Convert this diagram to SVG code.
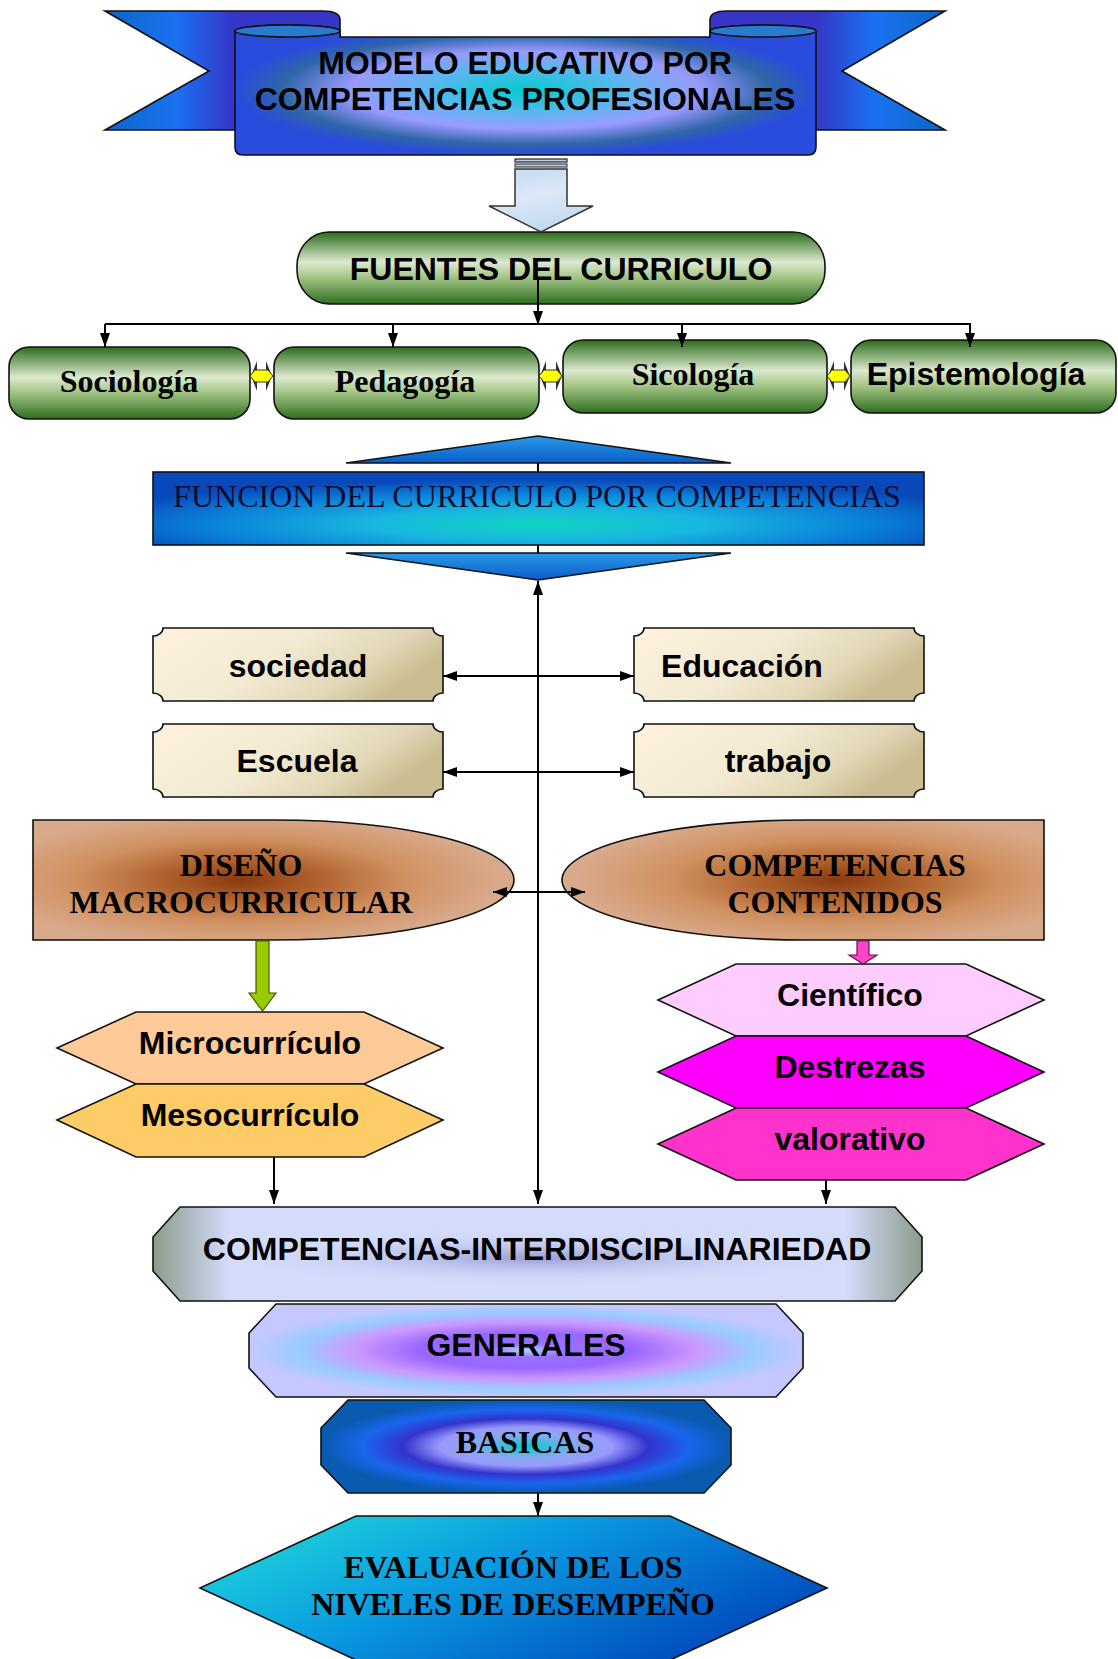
<svg xmlns="http://www.w3.org/2000/svg" width="1118" height="1659" viewBox="0 0 1118 1659">
<style>
.a{font-family:"Liberation Sans",Arial,sans-serif;font-weight:bold;font-size:32px;text-anchor:middle;fill:#000}
.t{font-family:"Liberation Serif","Times New Roman",serif;font-weight:bold;font-size:32px;text-anchor:middle;fill:#000}
.ln{fill:none;stroke:#000;stroke-width:2}
.sk{stroke:#111;stroke-width:1.6}
</style>
<defs>
<marker id="ah" viewBox="0 0 14 10" refX="14" refY="5" markerWidth="14" markerHeight="10" markerUnits="userSpaceOnUse" orient="auto-start-reverse">
<path d="M0,0 L14,5 L0,10 Z" fill="#000"/>
</marker>
<linearGradient id="tailL" x1="0" y1="0" x2="1" y2="0">
<stop offset="0" stop-color="#0b66c8"/><stop offset="0.3" stop-color="#1a72f0"/><stop offset="0.55" stop-color="#3535c8"/><stop offset="1" stop-color="#3535c8"/>
</linearGradient>
<linearGradient id="tailR" x1="1" y1="0" x2="0" y2="0">
<stop offset="0" stop-color="#0b66c8"/><stop offset="0.3" stop-color="#1a72f0"/><stop offset="0.55" stop-color="#3535c8"/><stop offset="1" stop-color="#3535c8"/>
</linearGradient>
<radialGradient id="panel" cx="0.5" cy="0.5" r="0.5">
<stop offset="0" stop-color="#00cccc"/><stop offset="0.35" stop-color="#5cb6f0"/><stop offset="0.6" stop-color="#9a9aff"/><stop offset="0.84" stop-color="#2f66a8"/><stop offset="1" stop-color="#2a4cdc"/>
</radialGradient>
<linearGradient id="bluearrow" x1="0" y1="0" x2="0.3" y2="1">
<stop offset="0" stop-color="#c2d8f2"/><stop offset="0.5" stop-color="#dce8f7"/><stop offset="1" stop-color="#c4daf2"/>
</linearGradient>
<linearGradient id="green" x1="0" y1="0" x2="0" y2="1">
<stop offset="0" stop-color="#2c6c1c"/><stop offset="0.42" stop-color="#dde9cf"/><stop offset="0.62" stop-color="#a6c788"/><stop offset="1" stop-color="#2e6e1e"/>
</linearGradient>
<linearGradient id="tri" x1="0" y1="0" x2="0" y2="1">
<stop offset="0" stop-color="#2a9ae8"/><stop offset="1" stop-color="#0a5cc8"/>
</linearGradient>
<radialGradient id="func" cx="0.5" cy="0.72" r="0.62">
<stop offset="0" stop-color="#10d4c0"/><stop offset="0.35" stop-color="#18b6e0"/><stop offset="0.7" stop-color="#0a80d8"/><stop offset="1" stop-color="#0848b8"/>
</radialGradient>
<linearGradient id="plaque" x1="0" y1="0" x2="1" y2="0.35">
<stop offset="0" stop-color="#fff2dc"/><stop offset="0.5" stop-color="#f2ead2"/><stop offset="0.8" stop-color="#e2d8b8"/><stop offset="1" stop-color="#cbbd92"/>
</linearGradient>
<radialGradient id="brownL" cx="0.43" cy="0.5" r="0.55">
<stop offset="0" stop-color="#8a3a0e"/><stop offset="0.3" stop-color="#b0622e"/><stop offset="0.62" stop-color="#d09060"/><stop offset="1" stop-color="#d8aa8c"/>
</radialGradient>
<radialGradient id="brownR" cx="0.57" cy="0.5" r="0.55">
<stop offset="0" stop-color="#8a3a0e"/><stop offset="0.3" stop-color="#b0622e"/><stop offset="0.62" stop-color="#d09060"/><stop offset="1" stop-color="#d8aa8c"/>
</radialGradient>
<linearGradient id="inter" x1="0" y1="0" x2="1" y2="0">
<stop offset="0" stop-color="#8c9c8a"/><stop offset="0.1" stop-color="#d4dcfc"/><stop offset="0.9" stop-color="#d4dcfc"/><stop offset="1" stop-color="#8c9c8a"/>
</linearGradient>
<radialGradient id="interShade" cx="0.5" cy="0.5" r="0.5">
<stop offset="0" stop-color="#9a9ed2" stop-opacity="1"/><stop offset="1" stop-color="#d4dcfc" stop-opacity="0"/>
</radialGradient>
<radialGradient id="gen" cx="0.5" cy="0.5" r="0.5">
<stop offset="0" stop-color="#a8d8ff"/><stop offset="0.14" stop-color="#9a72ff"/><stop offset="0.38" stop-color="#9966ff"/><stop offset="0.62" stop-color="#cc99ff"/><stop offset="0.82" stop-color="#99ccff"/><stop offset="1" stop-color="#c4c8ff"/>
</radialGradient>
<radialGradient id="bas" cx="0.5" cy="0.5" r="0.5">
<stop offset="0" stop-color="#00cccc"/><stop offset="0.25" stop-color="#8aa8f0"/><stop offset="0.42" stop-color="#9999ff"/><stop offset="0.6" stop-color="#3333cc"/><stop offset="0.8" stop-color="#1a66ee"/><stop offset="1" stop-color="#0a5ab0"/>
</radialGradient>
<linearGradient id="eva" x1="0" y1="0" x2="1" y2="0.5">
<stop offset="0" stop-color="#22e0d8"/><stop offset="0.5" stop-color="#0a9ae0"/><stop offset="1" stop-color="#0050c0"/>
</linearGradient>
</defs>
<rect width="1118" height="1659" fill="#fff"/>

<g id="banner">
<path d="M105,11 L323,11 Q340,11 340,20 L340,130 L105,130 L209,71 Z" fill="url(#tailL)" class="sk"/>
<path d="M945,11 L727,11 Q710,11 710,20 L710,130 L945,130 L842,71 Z" fill="url(#tailR)" class="sk"/>
<path d="M235,31 A52.5,6 0 0 1 340,31 L340,37 L710,37 L710,31 A53,6 0 0 1 816,31 L816,147 Q816,155 808,155 L243,155 Q235,155 235,147 Z" fill="url(#panel)" class="sk"/>
<ellipse cx="287.5" cy="31" rx="52.5" ry="6" fill="#2a7ad0" class="sk"/>
<ellipse cx="763" cy="31" rx="53" ry="6" fill="#2a7ad0" class="sk"/>
<text class="a" x="525" y="74" font-size="31">MODELO EDUCATIVO POR</text>
<text class="a" x="525" y="110" font-size="31">COMPETENCIAS PROFESIONALES</text>
</g>

<g id="fuentes">
<rect x="297" y="232" width="528" height="72" rx="32" ry="34" fill="url(#green)" class="sk"/>
<text class="a" x="561" y="280">FUENTES DEL CURRICULO</text>
</g>

<g id="sociologia">
<rect x="9" y="347" width="241" height="72" rx="20" fill="url(#green)" class="sk"/>
<text class="t" x="129" y="392">Sociología</text>
</g>
<g id="pedagogia">
<rect x="274" y="347" width="265" height="72" rx="20" fill="url(#green)" class="sk"/>
<text class="t" x="405" y="392">Pedagogía</text>
</g>
<g id="sicologia">
<rect x="563" y="340" width="264" height="73" rx="20" fill="url(#green)" class="sk"/>
<text class="t" x="693" y="385">Sicología</text>
</g>
<g id="epistemologia">
<rect x="851" y="340" width="265" height="73" rx="20" fill="url(#green)" class="sk"/>
<text class="a" x="976" y="385">Epistemología</text>
</g>

<g id="funcion">
<polygon points="538,436 731,463 346,463" fill="url(#tri)" class="sk"/>
<rect x="153" y="472" width="771" height="73" fill="url(#func)" class="sk"/>
<polygon points="346,553 731,553 538,580" fill="url(#tri)" class="sk"/>
<text x="537" y="507" font-family="Liberation Serif, Times New Roman, serif" font-size="32" text-anchor="middle" fill="#0b0b33">FUNCION DEL CURRICULO POR COMPETENCIAS</text>
</g>

<g id="sociedad">
<path d="M163,628 H433 A10,8 0 0 0 443,636 V693 A10,8 0 0 0 433,701 H163 A10,8 0 0 0 153,693 V636 A10,8 0 0 0 163,628 Z" fill="url(#plaque)" class="sk"/>
<text class="a" x="298" y="677">sociedad</text>
</g>
<g id="educacion">
<path d="M644,628 H914 A10,8 0 0 0 924,636 V693 A10,8 0 0 0 914,701 H644 A10,8 0 0 0 634,693 V636 A10,8 0 0 0 644,628 Z" fill="url(#plaque)" class="sk"/>
<text class="a" x="742" y="677">Educación</text>
</g>
<g id="escuela">
<path d="M163,724 H433 A10,8 0 0 0 443,732 V789 A10,8 0 0 0 433,797 H163 A10,8 0 0 0 153,789 V732 A10,8 0 0 0 163,724 Z" fill="url(#plaque)" class="sk"/>
<text class="a" x="297" y="772">Escuela</text>
</g>
<g id="trabajo">
<path d="M644,724 H914 A10,8 0 0 0 924,732 V789 A10,8 0 0 0 914,797 H644 A10,8 0 0 0 634,789 V732 A10,8 0 0 0 644,724 Z" fill="url(#plaque)" class="sk"/>
<text class="a" x="778" y="772">trabajo</text>
</g>

<g id="diseno">
<path d="M33,820 H274 A240,60 0 0 1 274,940 H33 Z" fill="url(#brownL)" class="sk"/>
<text class="t" x="241" y="876" font-size="31">DISEÑO</text>
<text class="t" x="241" y="913" font-size="31">MACROCURRICULAR</text>
</g>
<g id="competencias">
<path d="M1044,820 H807 A245,60 0 0 0 807,940 H1044 Z" fill="url(#brownR)" class="sk"/>
<text class="t" x="835" y="876" font-size="31">COMPETENCIAS</text>
<text class="t" x="835" y="913" font-size="31">CONTENIDOS</text>
</g>

<g id="microcurriculo">
<polygon points="57,1048 136,1012 364,1012 443,1048 364,1084 136,1084" fill="#fecb98" class="sk"/>
<text class="a" x="250" y="1054">Microcurrículo</text>
</g>
<g id="mesocurriculo">
<polygon points="57,1120 136,1084 364,1084 443,1120 364,1157 136,1157" fill="#fdcc66" class="sk"/>
<text class="a" x="250" y="1126">Mesocurrículo</text>
</g>
<g id="cientifico">
<polygon points="658,1000 736,964 966,964 1044,1000 966,1036 736,1036" fill="#ffccff" class="sk"/>
<text class="a" x="850" y="1006">Científico</text>
</g>
<g id="destrezas">
<polygon points="658,1072 736,1036 966,1036 1044,1072 966,1108 736,1108" fill="#ff00ff" class="sk"/>
<text class="a" x="850" y="1078">Destrezas</text>
</g>
<g id="valorativo">
<polygon points="658,1144 736,1108 966,1108 1044,1144 966,1180 736,1180" fill="#ff33cc" class="sk"/>
<text class="a" x="850" y="1150">valorativo</text>
</g>

<g id="interdisciplinariedad">
<polygon points="180,1207 895,1207 922,1237 922,1271 895,1301 180,1301 153,1271 153,1237" fill="url(#inter)" class="sk"/>
<ellipse cx="537" cy="1258" rx="330" ry="28" fill="url(#interShade)"/>
<text class="a" x="537" y="1260">COMPETENCIAS-INTERDISCIPLINARIEDAD</text>
</g>
<g id="generales">
<polygon points="276,1304 776,1304 803,1333 803,1368 776,1397 276,1397 249,1368 249,1333" fill="url(#gen)" class="sk"/>
<text class="a" x="526" y="1356">GENERALES</text>
</g>
<g id="basicas">
<polygon points="348,1400 704,1400 731,1428 731,1465 704,1493 348,1493 321,1465 321,1428" fill="url(#bas)" class="sk"/>
<text class="t" x="525" y="1453">BASICAS</text>
</g>
<g id="evaluacion">
<polygon points="356,1516 670,1516 827,1588 670,1660 356,1660 200,1588" fill="url(#eva)" class="sk"/>
<text class="t" x="513" y="1578">EVALUACIÓN DE LOS</text>
<text class="t" x="513" y="1615">NIVELES DE DESEMPEÑO</text>
</g>

<g id="connectors">
<rect x="515" y="159" width="52" height="3" fill="#b8cce8" stroke="#222" stroke-width="1.2"/>
<rect x="515" y="164" width="52" height="3" fill="#b8cce8" stroke="#444" stroke-width="1.2"/>
<polygon points="515,169 567,169 567,206 593,206 541,232 489,206 515,206" fill="url(#bluearrow)" stroke="#333" stroke-width="1.5"/>
<path class="ln" d="M538,280 V325" marker-end="url(#ah)"/>
<path class="ln" d="M105,324 H971"/>
<path class="ln" d="M105,324 V347" marker-end="url(#ah)"/>
<path class="ln" d="M393,324 V347" marker-end="url(#ah)"/>
<path class="ln" d="M682,324 V347" marker-end="url(#ah)"/>
<path class="ln" d="M970,324 V347" marker-end="url(#ah)"/>
<g fill="#333">
<polygon points="251,376 257,361 257,391"/><polygon points="272,376 266,361 266,391"/>
<polygon points="540,376 546,361 546,391"/><polygon points="562,376 556,361 556,391"/>
<polygon points="828,376 834,361 834,391"/><polygon points="850,376 844,361 844,391"/>
</g>
<g fill="#ffff00" stroke="#333" stroke-width="1">
<polygon points="250,376 255,370 268,370 273,376 268,382 255,382"/>
<polygon points="539,376 544,370 557,370 562,376 557,382 544,382"/>
<polygon points="827,376 832,370 845,370 850,376 845,382 832,382"/>
</g>
<path class="ln" d="M538,463 V472 M538,545 V553"/>
<path class="ln" d="M538,581 V1204" marker-start="url(#ah)" marker-end="url(#ah)"/>
<path class="ln" d="M443,676 H634" marker-start="url(#ah)" marker-end="url(#ah)"/>
<path class="ln" d="M443,772 H634" marker-start="url(#ah)" marker-end="url(#ah)"/>
<path class="ln" d="M493,892 H585" marker-start="url(#ah)" marker-end="url(#ah)"/>
<polygon points="256,941 269,941 269,993 276,993 262.5,1011 249,993 256,993" fill="#99cc00" stroke="#3e5a00" stroke-width="1.2"/>
<polygon points="857,941 869,941 869,955 877,955 863,964 849,955 857,955" fill="#ff44cc" stroke="#6a1050" stroke-width="1.2"/>
<path class="ln" d="M274,1157 V1204" marker-end="url(#ah)"/>
<path class="ln" d="M826,1180 V1204" marker-end="url(#ah)"/>
<path class="ln" d="M538,1493 V1516" marker-end="url(#ah)"/>
</g>
</svg>
